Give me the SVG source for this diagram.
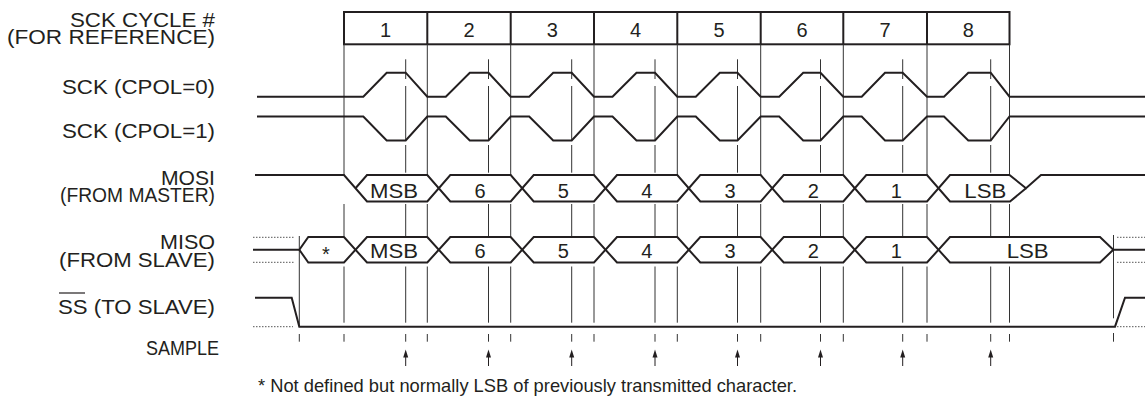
<svg xmlns="http://www.w3.org/2000/svg" width="1145" height="407" viewBox="0 0 1145 407">
<style>
text{font-family:"Liberation Sans",Arial,sans-serif;font-size:20px;fill:#231f20}
.mid{text-anchor:middle}
.foot{font-size:18.5px}
.wave{fill:none;stroke:#231f20;stroke-width:2;stroke-linejoin:miter}
.guide{fill:none;stroke:#333;stroke-width:1}
.dot{fill:none;stroke:#555;stroke-width:1;stroke-dasharray:1.5 1.5}
.box{fill:none;stroke:#231f20;stroke-width:2}
.arrow{stroke:#231f20;stroke-width:1}
.head{fill:#231f20}
</style>

<g id="labels">
<text x="70" y="27" textLength="145" lengthAdjust="spacingAndGlyphs">SCK CYCLE #</text>
<text x="7" y="43.5" textLength="208" lengthAdjust="spacingAndGlyphs">(FOR REFERENCE)</text>
<text x="62" y="94.3" textLength="153" lengthAdjust="spacingAndGlyphs">SCK (CPOL=0)</text>
<text x="62" y="138" textLength="153" lengthAdjust="spacingAndGlyphs">SCK (CPOL=1)</text>
<text x="161" y="185" textLength="54" lengthAdjust="spacingAndGlyphs">MOSI</text>
<text x="60" y="202" textLength="155" lengthAdjust="spacingAndGlyphs">(FROM MASTER)</text>
<text x="160" y="249" textLength="55" lengthAdjust="spacingAndGlyphs">MISO</text>
<text x="59" y="267" textLength="156" lengthAdjust="spacingAndGlyphs">(FROM SLAVE)</text>
<text x="58" y="314" textLength="157" lengthAdjust="spacingAndGlyphs">SS (TO SLAVE)</text>
<line x1="59" y1="293" x2="85" y2="293" stroke="#231f20" stroke-width="1.2"/>
<text x="146" y="355" textLength="73" lengthAdjust="spacingAndGlyphs">SAMPLE</text>
<text class="foot" x="258" y="392" textLength="539" lengthAdjust="spacingAndGlyphs">* Not defined but normally LSB of previously transmitted character.</text>
</g>

<g id="cycle-boxes">
<rect class="box" x="344" y="12" width="665.5" height="32.3"/>
<path class="box" d="M427.3,12V44.3M510.7,12V44.3M594,12V44.3M677.3,12V44.3M760.7,12V44.3M843.3,12V44.3M927,12V44.3"/>
<text class="mid" x="385.6" y="36.7">1</text>
<text class="mid" x="469" y="36.7">2</text>
<text class="mid" x="552.3" y="36.7">3</text>
<text class="mid" x="635.6" y="36.7">4</text>
<text class="mid" x="719" y="36.7">5</text>
<text class="mid" x="802" y="36.7">6</text>
<text class="mid" x="885.1" y="36.7">7</text>
<text class="mid" x="968.2" y="36.7">8</text>
</g>

<g id="connectors">
<path class="guide" d="M344,44.3V175M344,204V236M344,266.5V322.7M344,334V341.7
M427.3,44.3V175M427.3,204V236M427.3,266.5V322.7M427.3,334V341.7
M510.7,44.3V175M510.7,204V236M510.7,266.5V322.7M510.7,334V341.7
M594,44.3V175M594,204V236M594,266.5V322.7M594,334V341.7
M677.3,44.3V175M677.3,204V236M677.3,266.5V322.7M677.3,334V341.7
M760.7,44.3V175M760.7,204V236M760.7,266.5V322.7M760.7,334V341.7
M843.3,44.3V175M843.3,204V236M843.3,266.5V322.7M843.3,334V341.7
M927,44.3V175M927,204V236M927,266.5V322.7M927,334V341.7
M1009.5,44.3V175M1009.5,204V236M1009.5,266.5V322.7M1009.5,334V341.7"/>
<path class="guide" d="M405.7,59.3V79M405.7,86V140M405.7,145V172.7M405.7,204V236M405.7,266.5V322.7M405.7,334V341.7
M488.5,59.3V79M488.5,86V140M488.5,145V172.7M488.5,204V236M488.5,266.5V322.7M488.5,334V341.7
M571.7,59.3V79M571.7,86V140M571.7,145V172.7M571.7,204V236M571.7,266.5V322.7M571.7,334V341.7
M655,59.3V79M655,86V140M655,145V172.7M655,204V236M655,266.5V322.7M655,334V341.7
M737.5,59.3V79M737.5,86V140M737.5,145V172.7M737.5,204V236M737.5,266.5V322.7M737.5,334V341.7
M820.5,59.3V79M820.5,86V140M820.5,145V172.7M820.5,204V236M820.5,266.5V322.7M820.5,334V341.7
M902.7,59.3V79M902.7,86V140M902.7,145V172.7M902.7,204V236M902.7,266.5V322.7M902.7,334V341.7
M990.7,59.3V79M990.7,86V140M990.7,145V172.7M990.7,204V236M990.7,266.5V322.7M990.7,334V341.7"/>
<path class="guide" d="M299.3,236V326.7M299.3,334V341.7M1113.5,235V318.3M1113.5,333V341.7"/>
<g id="sample-arrows">
<path class="arrow" d="M405.7,355V366M488.5,355V366M571.7,355V366M655,355V366M737.5,355V366M820.5,355V366M902.7,355V366M990.7,355V366"/>
<path class="head" d="M403.2,357.5L405.7,349.5L408.2,357.5ZM486,357.5L488.5,349.5L491,357.5ZM569.2,357.5L571.7,349.5L574.2,357.5ZM652.5,357.5L655,349.5L657.5,357.5ZM735,357.5L737.5,349.5L740,357.5ZM818,357.5L820.5,349.5L823,357.5ZM900.2,357.5L902.7,349.5L905.2,357.5ZM988.2,357.5L990.7,349.5L993.2,357.5Z"/>
</g>
</g>

<g id="sck-cpol0">
<path class="wave" d="M257,96.7H363.3L386.7,72.7H405.7L427.3,96.7H445.8L469.8,72.7H488.5L510.7,96.7H529.2L553.2,72.7H571.7L594,96.7H612.5L636.5,72.7H655L677.3,96.7H695.8L719.8,72.7H737.5L760.7,96.7H779.2L803.2,72.7H820.5L843.3,96.7H861.7L885,72.7H902.7L927,96.7H944L968.3,72.7H990.7L1009.5,96.7H1145"/>
</g>

<g id="sck-cpol1">
<path class="wave" d="M257,116.5H363.3L386.7,140.5H405.7L427.3,116.5H445.8L469.8,140.5H488.5L510.7,116.5H529.2L553.2,140.5H571.7L594,116.5H612.5L636.5,140.5H655L677.3,116.5H695.8L719.8,140.5H737.5L760.7,116.5H779.2L803.2,140.5H820.5L843.3,116.5H861.7L885,140.5H902.7L927,116.5H944L968.3,140.5H990.7L1009.5,116.5H1145"/>
</g>

<g id="mosi">
<path class="wave" d="M255,175H344L367,201.5H427.3L450.3,175H510.7L533.7,201.5H594L617,175H677.3L700.3,201.5H760.7L783.7,175H843.3L866.3,201.5H927L950,175H1009.5L1026,188.25L1041,175H1145"/>
<path class="wave" d="M355.5,188.25L367,175H427.3L450.3,201.5H510.7L533.7,175H594L617,201.5H677.3L700.3,175H760.7L783.7,201.5H843.3L866.3,175H927L950,201.5H1010L1026,188.25"/>
<text x="370" y="197.5" textLength="48" lengthAdjust="spacingAndGlyphs">MSB</text>
<text class="mid" x="480" y="197.5">6</text>
<text class="mid" x="563.4" y="197.5">5</text>
<text class="mid" x="646.8" y="197.5">4</text>
<text class="mid" x="730.1" y="197.5">3</text>
<text class="mid" x="813.2" y="197.5">2</text>
<text class="mid" x="896.3" y="197.5">1</text>
<text x="964.3" y="197.5" textLength="42" lengthAdjust="spacingAndGlyphs">LSB</text>
</g>

<g id="miso">
<path class="wave" d="M253,249.75H299.3L308.3,237H344L367,262.5H427.3L450.3,237H510.7L533.7,262.5H594L617,237H677.3L700.3,262.5H760.7L783.7,237H843.3L866.3,262.5H927L950,237H1100L1113.3,249.75H1145"/>
<path class="wave" d="M299.3,249.75L308.3,262.5H344L367,237H427.3L450.3,262.5H510.7L533.7,237H594L617,262.5H677.3L700.3,237H760.7L783.7,262.5H843.3L866.3,237H927L950,262.5H1100L1113.3,249.75"/>
<path class="dot" d="M253,237.3H294M253,262.3H294M1117,237.3H1145M1117,262.3H1145"/>
<text class="mid" x="326" y="261">*</text>
<text x="370" y="258" textLength="48" lengthAdjust="spacingAndGlyphs">MSB</text>
<text class="mid" x="480" y="258">6</text>
<text class="mid" x="563.4" y="258">5</text>
<text class="mid" x="646.8" y="258">4</text>
<text class="mid" x="730.1" y="258">3</text>
<text class="mid" x="813.2" y="258">2</text>
<text class="mid" x="896.3" y="258">1</text>
<text x="1006.7" y="258" textLength="42" lengthAdjust="spacingAndGlyphs">LSB</text>
</g>

<g id="ss">
<path class="wave" d="M255,297.7H291.7L299.3,326.7H1115L1125,297.7H1145"/>
<path class="dot" d="M253,326.7H293M1117,326.7H1145"/>
</g>
</svg>
